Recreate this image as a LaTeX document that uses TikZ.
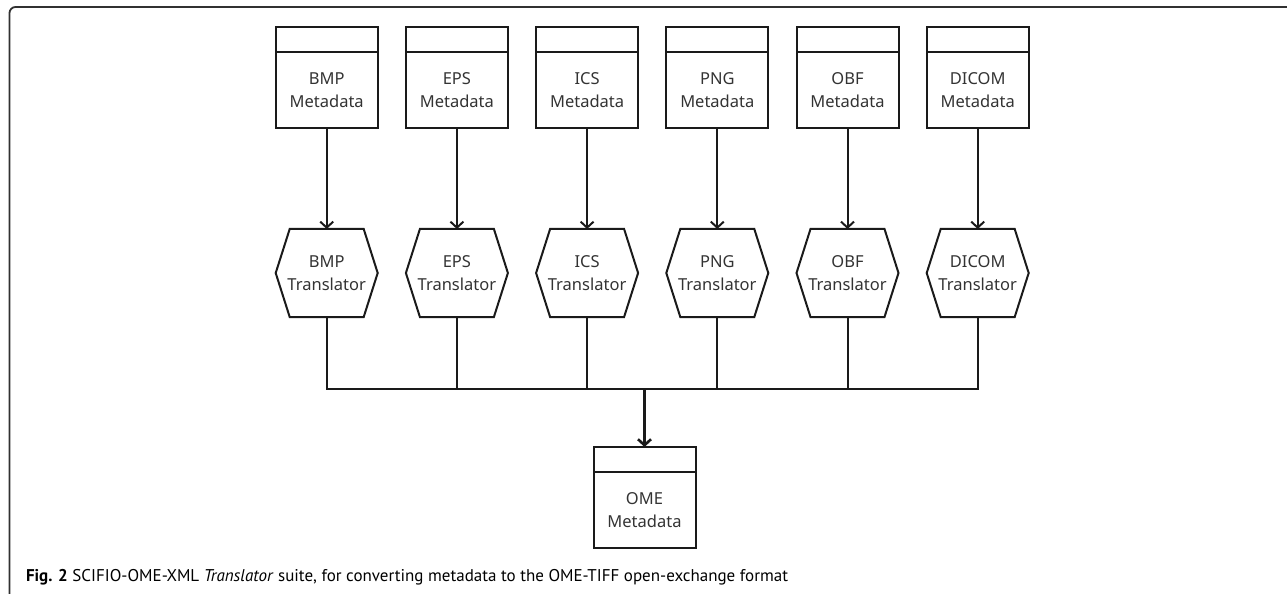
\documentclass[tikz,border=0pt]{standalone}
\usepackage{fontspec}
\setmainfont{Noto Sans}
\newfontfamily\capfont{PT Sans}
\usetikzlibrary{positioning,arrows.meta}
\definecolor{ink}{HTML}{1A1A1A}
\definecolor{txt}{HTML}{333333}
\begin{document}
\begin{tikzpicture}[x=1bp, y=-1bp,
  line width=2bp, draw=ink,
  >={Straight Barb[length=6bp,width=13bp]},
  every node/.style={font=\fontsize{16.5bp}{23bp}\selectfont, text=txt, inner sep=0pt, outer sep=0pt},
  head/.style={draw, minimum width=102bp, minimum height=25bp},
  meta/.style={draw, minimum width=102bp, minimum height=76bp, align=center},
  trans/.style={minimum width=102bp, minimum height=88bp, align=center,
    append after command={\pgfextra{\draw[line width=2bp, ink]
      (\tikzlastnode.west) -- ([xshift=14bp]\tikzlastnode.north west)
      -- ([xshift=-14bp]\tikzlastnode.north east) -- (\tikzlastnode.east)
      -- ([xshift=-14bp]\tikzlastnode.south east)
      -- ([xshift=14bp]\tikzlastnode.south west) -- cycle;}}}
  ]
  \useasboundingbox (0,0) rectangle (1287,594);

  % frame
  \draw[line width=1.8bp, ink!90, rounded corners=6bp] (9.5,600) -- (9.5,7) -- (1290,7);

  % metadata
  \node (bmpH) at (326.7,39.5) [head] {};
  \node (epsH) at (456.9,39.5) [head] {};
  \node (icsH) at (587.1,39.5) [head] {};
  \node (pngH) at (717.3,39.5) [head] {};
  \node (obfH) at (847.5,39.5) [head] {};
  \node (dcmH) at (977.7,39.5) [head] {};
  \node (bmp) [meta, below=0pt of bmpH] {BMP\\Metadata};
  \node (eps) [meta, below=0pt of epsH] {EPS\\Metadata};
  \node (ics) [meta, below=0pt of icsH] {ICS\\Metadata};
  \node (png) [meta, below=0pt of pngH] {PNG\\Metadata};
  \node (obf) [meta, below=0pt of obfH] {OBF\\Metadata};
  \node (dcm) [meta, below=0pt of dcmH] {DICOM\\Metadata};

  % translators
  \node (bmpT) at (326.7,273) [trans] {BMP\\Translator};
  \node (epsT) at (456.9,273) [trans] {EPS\\Translator};
  \node (icsT) at (587.1,273) [trans] {ICS\\Translator};
  \node (pngT) at (717.3,273) [trans] {PNG\\Translator};
  \node (obfT) at (847.5,273) [trans] {OBF\\Translator};
  \node (dcmT) at (977.7,273) [trans] {DICOM\\Translator};

  % OME
  \node (omeH) at (644.5,459.5) [head] {};
  \node (ome) [meta, below=0pt of omeH] {OME\\Metadata};

  \coordinate (bus) at (644.5,389);

  \draw[->] (bmp) to (bmpT);
  \draw[->] (eps) to (epsT);
  \draw[->] (ics) to (icsT);
  \draw[->] (png) to (pngT);
  \draw[->] (obf) to (obfT);
  \draw[->] (dcm) to (dcmT);

  \draw (bmpT.south) |- (bus);
  \draw (dcmT.south) |- (bus);
  \draw (epsT.south) -- (epsT.south |- bus);
  \draw (icsT.south) -- (icsT.south |- bus);
  \draw (pngT.south) -- (pngT.south |- bus);
  \draw (obfT.south) -- (obfT.south |- bus);
  \draw[->, line width=2.6bp] (bus) to (omeH.north);

  % caption
  \node[anchor=base west, font=\capfont\fontsize{17bp}{20bp}\selectfont, text=black]
    (cap) at (26,581) {\textbf{Fig. 2} SCIFIO-OME-XML \textit{Translator} suite, for converting metadata to the OME-TIFF open-exchange format};
\end{tikzpicture}
\end{document}
